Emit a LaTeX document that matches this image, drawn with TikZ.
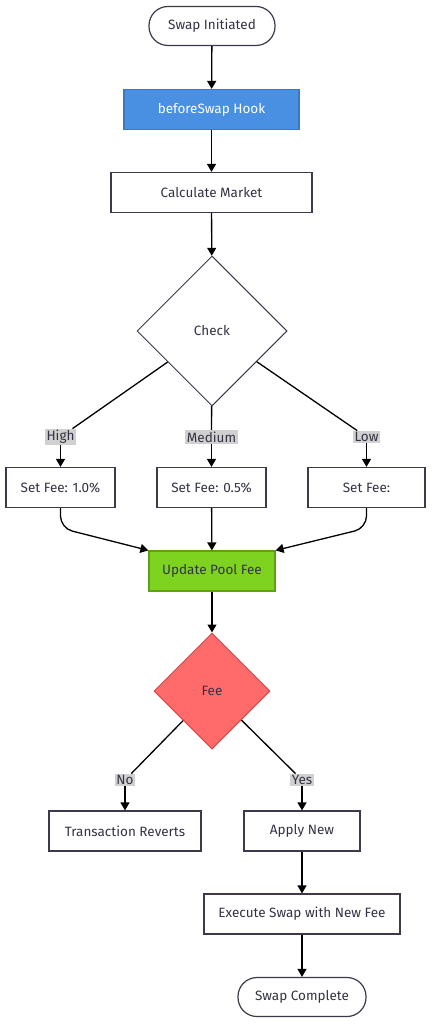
\documentclass[tikz,border=0pt]{standalone}
\usepackage{fontspec}
\setmainfont{Fira Sans}
\usepackage{xcolor}
\usetikzlibrary{positioning, shapes.geometric, arrows.meta}

\definecolor{txtdark}{HTML}{333344}
\definecolor{boxline}{HTML}{3A3A4A}
\definecolor{hookblue}{HTML}{4A90E2}
\definecolor{hookedge}{HTML}{3A78C0}
\definecolor{poolgreen}{HTML}{7ED321}
\definecolor{pooledge}{HTML}{5FA015}
\definecolor{feered}{HTML}{FF6B6B}
\definecolor{feeedge}{HTML}{D84A4A}
\definecolor{lblgrey}{HTML}{D0D0D0}

\begin{document}
\begin{tikzpicture}[x=1pt, y=-1pt, font=\fontsize{13.5}{16}\selectfont, text=txtdark,
    startend/.style={draw=boxline, line width=1.2pt, rounded corners=19pt, minimum height=39pt, fill=white},
    procbox/.style={draw=boxline, line width=1.2pt, rectangle, minimum height=40pt, fill=white},
    decision/.style={draw, diamond, aspect=1, inner sep=0pt, line width=1pt},
    edgelbl/.style={fill=lblgrey, inner sep=1.5pt},
    arr/.style={-{Triangle[length=8pt,width=9pt]}, line width=1.3pt}]
  \useasboundingbox (0,0) rectangle (431,1024);

  \node[startend, minimum width=126pt] (start) at (212,26) {Swap Initiated};
  \node[procbox, minimum width=175pt, fill=hookblue, draw=hookedge, text=white] (hook) at (211.5,109.5) {beforeSwap Hook};
  \node[procbox, minimum width=201pt] (calc) at (211.5,192.5) {Calculate Market};
  \node[decision, draw=boxline, fill=white, minimum width=150pt, minimum height=150pt] (check) at (212,331) {Check};

  \draw[arr] (start) -- (hook);
  \draw[arr] (hook) -- (calc);
  \draw[arr] (calc) -- (check);

  % three fee levels
  \foreach \nm/\x/\w/\lab/\txt in {hi/60.5/109/High/Set Fee: 1.0\%, md/211.5/109/Medium/Set Fee: 0.5\%, lo/366.5/117/Low/Set Fee:} {
    \node[edgelbl] (lbl\nm) at (\x,437) {\lab};
    \node[procbox, minimum width=\w pt] (set\nm) at (\x,487.5) {\txt};
    \draw[line width=1.3pt] (check) -- (lbl\nm);
    \draw[arr] (lbl\nm) -- (set\nm);
  }

  \node[procbox, minimum width=126pt, fill=poolgreen, draw=pooledge] (upd) at (212,571) {Update Pool Fee};
  \draw[arr, rounded corners=12pt] (sethi.south) -- ++(0,20) -- (upd.north west);
  \draw[arr] (setmd) -- (upd);
  \draw[arr, rounded corners=12pt] (setlo.south) -- ++(0,20) -- (upd.north east);

  \node[decision, fill=feered, draw=feeedge, minimum width=116pt, minimum height=116pt] (feeok) at (212,691) {Fee};
  \draw[arr] (upd) -- (feeok);

  \node[edgelbl] (lblno) at (125,780) {No};
  \node[edgelbl] (lblyes) at (302,780) {Yes};
  \node[procbox, minimum width=152pt] (revert) at (125,831) {Transaction Reverts};
  \node[procbox, minimum width=116pt] (apply) at (302,831) {Apply New};
  \draw[line width=1.3pt] (feeok) -- (lblno);
  \draw[line width=1.3pt] (feeok) -- (lblyes);
  \draw[arr] (lblno) -- (revert);
  \draw[arr] (lblyes) -- (apply);

  \node[procbox, minimum width=196pt] (exec) at (302,914) {Execute Swap with New Fee};
  \node[startend, minimum width=128pt] (done) at (302,997) {Swap Complete};
  \draw[arr] (apply) -- (exec);
  \draw[arr] (exec) -- (done);
\end{tikzpicture}
\end{document}
